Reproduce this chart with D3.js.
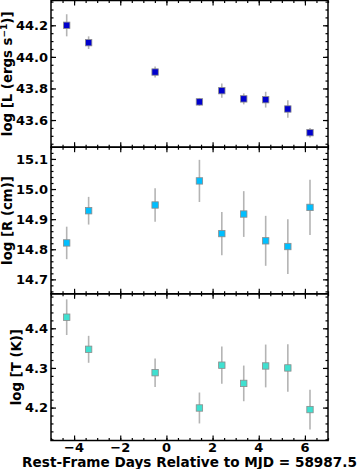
<!DOCTYPE html>
<html><head><meta charset="utf-8">
<script src="https://cdn.jsdelivr.net/npm/d3@7"></script>
<style>
html,body{margin:0;padding:0;background:#fff;}
svg{display:block;}
text{font-family:"DejaVu Sans",sans-serif;font-weight:bold;fill:#000;}
</style></head>
<body>
<svg id="c" width="357" height="469"></svg>
<script>
const days = [-4.32, -3.37, -0.49, 1.43, 2.40, 3.35, 4.30, 5.26, 6.22];
const logL = [44.20, 44.09, 43.904, 43.715, 43.786, 43.734, 43.729, 43.67, 43.52];
const logLErr = [0.07, 0.04, 0.035, 0.025, 0.045, 0.035, 0.05, 0.055, 0.03];
const logR = [14.821, 14.928, 14.947, 15.027, 14.852, 14.917, 14.828, 14.809, 14.939];
const logRErr = [0.054, 0.046, 0.056, 0.07, 0.072, 0.076, 0.083, 0.091, 0.092];
const logT = [4.428, 4.347, 4.288, 4.199, 4.307, 4.261, 4.305, 4.300, 4.195];
const logTErr = [0.045, 0.034, 0.036, 0.039, 0.047, 0.045, 0.054, 0.060, 0.050];
const xTicks = [-4, -2, 0, 2, 4, 6];
const lTicks = [43.6, 43.8, 44.0, 44.2];
const rTicks = [14.7, 14.8, 14.9, 15.0, 15.1];
const tTicks = [4.2, 4.3, 4.4];
const xLabel = "Rest-Frame Days Relative to MJD = 58987.5";

const svg = d3.select("#c");
const L = 51, R = 328;
const x = d3.scaleLinear().domain([-5, 7]).range([L, R]);
const xMinor = d3.range(-5, 7.001, 0.5);

const panels = [
  {vals: logL, err: logLErr, dom: [43.428, 44.357], top: 0.5, bot: 147.2, ticks: lTicks, fmt: d3.format(".1f"), minorStep: 0.05, color: "#0000cd", label: "L"},
  {vals: logR, err: logRErr, dom: [14.652, 15.139], top: 147.2, bot: 293.8, ticks: rTicks, fmt: d3.format(".1f"), minorStep: 0.02, color: "#00bfff", label: "R"},
  {vals: logT, err: logTErr, dom: [4.117, 4.487], top: 293.8, bot: 440.5, ticks: tTicks, fmt: d3.format(".1f"), minorStep: 0.02, color: "#40e0d0", label: "T"}
];

panels.forEach((p, i) => {
  const y = d3.scaleLinear().domain(p.dom).range([p.bot, p.top]);
  const g = svg.append("g");
  const minors = d3.range(Math.ceil(p.dom[0] / p.minorStep) * p.minorStep, p.dom[1], p.minorStep);

  const ay = g.append("g").attr("transform", `translate(${L},0)`)
    .call(d3.axisRight(y).tickValues(p.ticks).tickSize(5).tickFormat(""));
  const ayMin = g.append("g").attr("transform", `translate(${L},0)`)
    .call(d3.axisRight(y).tickValues(minors).tickSize(2.5).tickFormat(""));
  const ayR = g.append("g").attr("transform", `translate(${R},0)`)
    .call(d3.axisLeft(y).tickValues(p.ticks).tickSize(5).tickFormat(""));
  const ayRMin = g.append("g").attr("transform", `translate(${R},0)`)
    .call(d3.axisLeft(y).tickValues(minors).tickSize(2.5).tickFormat(""));
  const axT = g.append("g").attr("transform", `translate(0,${p.top})`)
    .call(d3.axisBottom(x).tickValues(xTicks).tickSize(5).tickFormat(""));
  const axTMin = g.append("g").attr("transform", `translate(0,${p.top})`)
    .call(d3.axisBottom(x).tickValues(xMinor).tickSize(2.5).tickFormat(""));
  const axB = g.append("g").attr("transform", `translate(0,${p.bot})`)
    .call(d3.axisTop(x).tickValues(xTicks).tickSize(5).tickFormat(""));
  const axBMin = g.append("g").attr("transform", `translate(0,${p.bot})`)
    .call(d3.axisTop(x).tickValues(xMinor).tickSize(2.5).tickFormat(""));
  [ay, ayMin, ayR, ayRMin, axT, axTMin, axB, axBMin].forEach(a => {
    a.select(".domain").remove();
    a.selectAll("line").attr("stroke", "#000").attr("stroke-width", 1.2);
  });

  const tl = g.append("g").selectAll("text").data(p.ticks).join("text")
    .attr("x", L - 3).attr("y", d => y(d)).attr("dy", "0.36em")
    .attr("text-anchor", "end").attr("font-size", 13).text(d => p.fmt(d));
  let minLeft = L;
  tl.each(function () { minLeft = Math.min(minLeft, this.getBBox().x); });

  g.append("g").selectAll("line").data(days).join("line")
    .attr("x1", d => x(d)).attr("x2", d => x(d))
    .attr("y1", (d, j) => y(p.vals[j] - p.err[j]))
    .attr("y2", (d, j) => y(p.vals[j] + p.err[j]))
    .attr("stroke", "#b4b4b4").attr("stroke-width", 1.6);
  const s = 6.4;
  g.append("g").selectAll("rect").data(days).join("rect")
    .attr("x", d => x(d) - s / 2).attr("y", (d, j) => y(p.vals[j]) - s / 2)
    .attr("width", s).attr("height", s)
    .attr("fill", p.color).attr("stroke", "#8c8c8c").attr("stroke-width", 0.8);

  g.append("rect").attr("x", L).attr("y", p.top).attr("width", R - L).attr("height", p.bot - p.top)
    .attr("fill", "none").attr("stroke", "#000").attr("stroke-width", 1.5);

  const cy = (p.top + p.bot) / 2;
  const lx = minLeft - 4;
  const t = g.append("text").attr("transform", `translate(${lx},${cy}) rotate(-90)`)
    .attr("text-anchor", "middle").attr("font-size", 13.3);
  if (p.label === "L") {
    t.append("tspan").text("log [L (ergs s");
    t.append("tspan").attr("baseline-shift", "super").attr("font-size", 9).text("\u22121");
    t.append("tspan").text(")]");
  } else if (p.label === "R") {
    t.text("log [R (cm)]");
  } else {
    t.text("log [T (K)]");
  }

  if (i === 2) {
    g.append("g").selectAll("text").data(xTicks).join("text")
      .attr("x", d => x(d)).attr("y", p.bot + 11.8)
      .attr("text-anchor", "middle").attr("font-size", 13)
      .text(d => d < 0 ? "\u2212" + Math.abs(d) : String(d));
  }
});

svg.append("text").attr("x", (L + R) / 2).attr("y", 467.3)
  .attr("text-anchor", "middle").attr("font-size", 13.6).text(xLabel);
</script>
</body></html>
